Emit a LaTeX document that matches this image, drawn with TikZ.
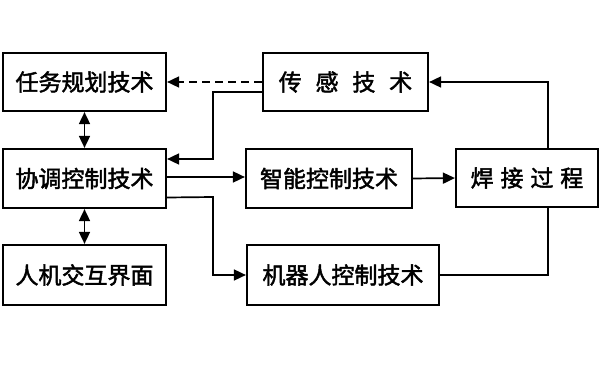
\documentclass[tikz,border=0pt]{standalone}
\usepackage{fontspec}
\setmainfont{Noto Sans CJK SC}[FakeBold=2]
\usetikzlibrary{arrows.meta}
\begin{document}
\begin{tikzpicture}[x=1pt,y=-1pt,
  box/.style={draw,line width=2.2pt,inner sep=0pt,font=\fontsize{23}{23}\selectfont},
  conn/.style={line width=1.7pt},
  arr/.style={conn,-{Triangle[length=12pt,width=11pt]}},
  darr/.style={conn,{Triangle[length=12pt,width=11pt]}-{Triangle[length=12pt,width=11pt]}}]
\useasboundingbox (0,0) rectangle (600,372);
\node[box,minimum width=163pt,minimum height=58pt] (task) at (84.5,82) {任务规划技术};
\node[box,minimum width=163pt,minimum height=59pt] (coord) at (84.5,178.5) {协调控制技术};
\node[box,minimum width=163pt,minimum height=60pt] (hmi) at (84.5,275) {人机交互界面};
\node[box,minimum width=165pt,minimum height=58pt] (sense) at (345.5,82) {传\hspace{0.6em}感\hspace{0.6em}技\hspace{0.6em}术};
\node[box,minimum width=166pt,minimum height=59pt] (intel) at (329,178.5) {智能控制技术};
\node[box,minimum width=142pt,minimum height=58pt] (weld) at (527,178) {焊\hspace{0.3em}接\hspace{0.3em}过\hspace{0.3em}程};
\node[box,minimum width=192pt,minimum height=60pt] (robot) at (343,275) {机器人控制技术};
% vertical double arrows
\draw[darr] (task.south) -- (coord.north);
\draw[darr] (coord.south) -- (hmi.north);
% dashed sensing -> task
\draw[arr,dashed,dash pattern=on 8pt off 5pt] (sense.west) -- (task.east);
% sensing -> coordination
\coordinate (s1) at ([yshift=-10pt]sense.west);
\coordinate (c1) at ([yshift=19.5pt]coord.east);
\draw[arr] (s1) -- (213,92) -- (213,159) -- (c1);
% coordination -> intelligent
\draw[arr] ([yshift=1.5pt]coord.east) -- ([yshift=1.5pt]intel.west);
% coordination -> robot
\coordinate (c2) at ([yshift=-19pt]coord.east);
\draw[arr] (c2) -- (213,197) -- (213,275) -- (robot.west);
% intelligent -> weld
\draw[arr] (intel.east) -- (weld.west);
% weld -> sensing
\draw[arr] (548,149) -- (548,82) -- (sense.east);
% weld -> robot
\draw[conn] (548,207) -- (548,275) -- (robot.east);
\end{tikzpicture}
\end{document}
